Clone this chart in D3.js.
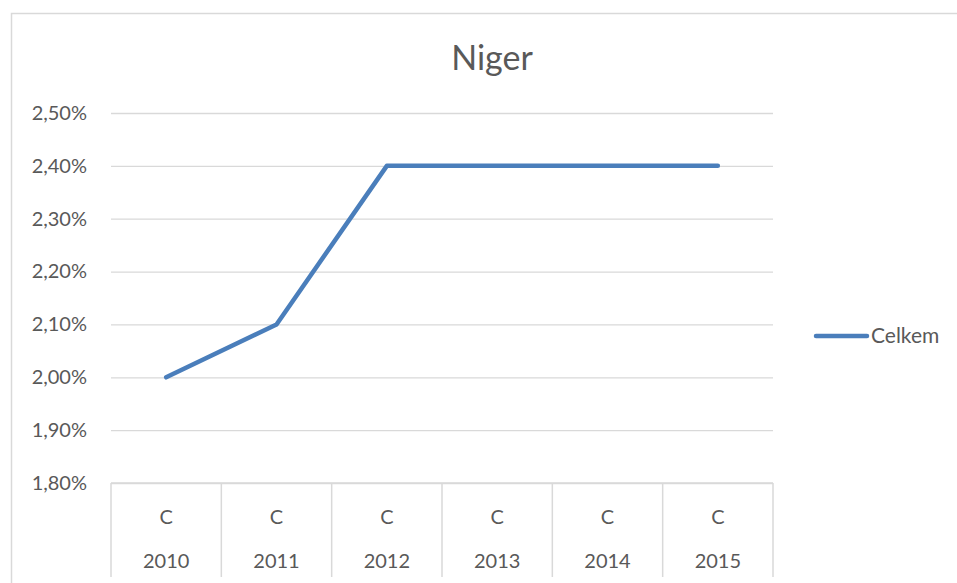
<!DOCTYPE html>
<html>
<head>
<meta charset="utf-8">
<script src="https://cdn.jsdelivr.net/npm/d3@7"></script>
<style>
  body { margin: 0; background: #fff; }
  svg text { font-family: Lato, "Open Sans", sans-serif; fill: #595959; }
</style>
</head>
<body>
<svg width="957" height="583"></svg>
<script>
const years = ["2010", "2011", "2012", "2013", "2014", "2015"];
const subLabels = ["C", "C", "C", "C", "C", "C"];
const celkem = [2.0, 2.1, 2.4, 2.4, 2.4, 2.4];
const yTicks = [1.8, 1.9, 2.0, 2.1, 2.2, 2.3, 2.4, 2.5];
const seriesName = "Celkem";
const title = "Niger";

const margin = { top: 113, left: 111, right: 184, bottom: 100 },
      width = 773 - margin.left,
      height = 483 - margin.top;

const svg = d3.select("svg");

// chart area border
svg.append("rect")
    .attr("x", 11.5).attr("y", 13.5)
    .attr("width", 1000).attr("height", 700)
    .attr("fill", "none").attr("stroke", "#d9d9d9").attr("stroke-width", 1.5);

svg.append("text")
    .attr("x", 492).attr("y", 70)
    .attr("text-anchor", "middle")
    .style("font-size", "34px")
    .text(title);

const g = svg.append("g").attr("transform", `translate(${margin.left},${margin.top})`);

const x = d3.scaleBand().domain(years).range([0, width]);
const y = d3.scaleLinear().domain([1.8, 2.5]).range([height, 0]);

// gridlines + y labels
g.append("g")
    .call(d3.axisLeft(y).tickValues(yTicks).tickSize(-width).tickPadding(24)
        .tickFormat(d => d3.format(".2f")(d).replace(".", ",") + "%"))
    .call(a => a.select(".domain").remove())
    .call(a => a.selectAll("line").attr("stroke", "#d9d9d9").attr("stroke-width", 1.3))
    .call(a => a.selectAll("text").style("font-size", "20px").attr("fill", "#595959")
        .style("font-family", "Lato, 'Open Sans', sans-serif"));

// category axis with two levels
const xa = g.append("g").attr("transform", `translate(0,${height})`);
xa.append("line").attr("x1", 0).attr("x2", width)
    .attr("stroke", "#d9d9d9").attr("stroke-width", 1.5);
xa.selectAll(".sep").data(d3.range(years.length + 1)).enter().append("line")
    .attr("x1", i => i < years.length ? x(years[i]) : width)
    .attr("x2", i => i < years.length ? x(years[i]) : width)
    .attr("y1", 0).attr("y2", 94)
    .attr("stroke", "#d9d9d9").attr("stroke-width", 1.5);
xa.selectAll(".sub").data(years).enter().append("text")
    .attr("x", d => x(d) + x.bandwidth() / 2).attr("y", 41)
    .attr("text-anchor", "middle").style("font-size", "20px")
    .text((d, i) => subLabels[i]);
xa.selectAll(".yr").data(years).enter().append("text")
    .attr("x", d => x(d) + x.bandwidth() / 2).attr("y", 85)
    .attr("text-anchor", "middle").style("font-size", "20px")
    .text(d => d);

// series line
const line = d3.line()
    .x((d, i) => x(years[i]) + x.bandwidth() / 2)
    .y(d => y(d));
g.append("path").datum(celkem)
    .attr("d", line)
    .attr("fill", "none").attr("stroke", "#4a7ebb")
    .attr("stroke-width", 4.5).attr("stroke-linecap", "round").attr("stroke-linejoin", "round");

// legend
const lg = svg.append("g").attr("transform", "translate(816,336)");
lg.append("line").attr("x1", 0).attr("x2", 51)
    .attr("stroke", "#4a7ebb").attr("stroke-width", 4.5).attr("stroke-linecap", "round");
lg.append("text").attr("x", 55).attr("y", 7).style("font-size", "21px").text(seriesName);
</script>
</body>
</html>
